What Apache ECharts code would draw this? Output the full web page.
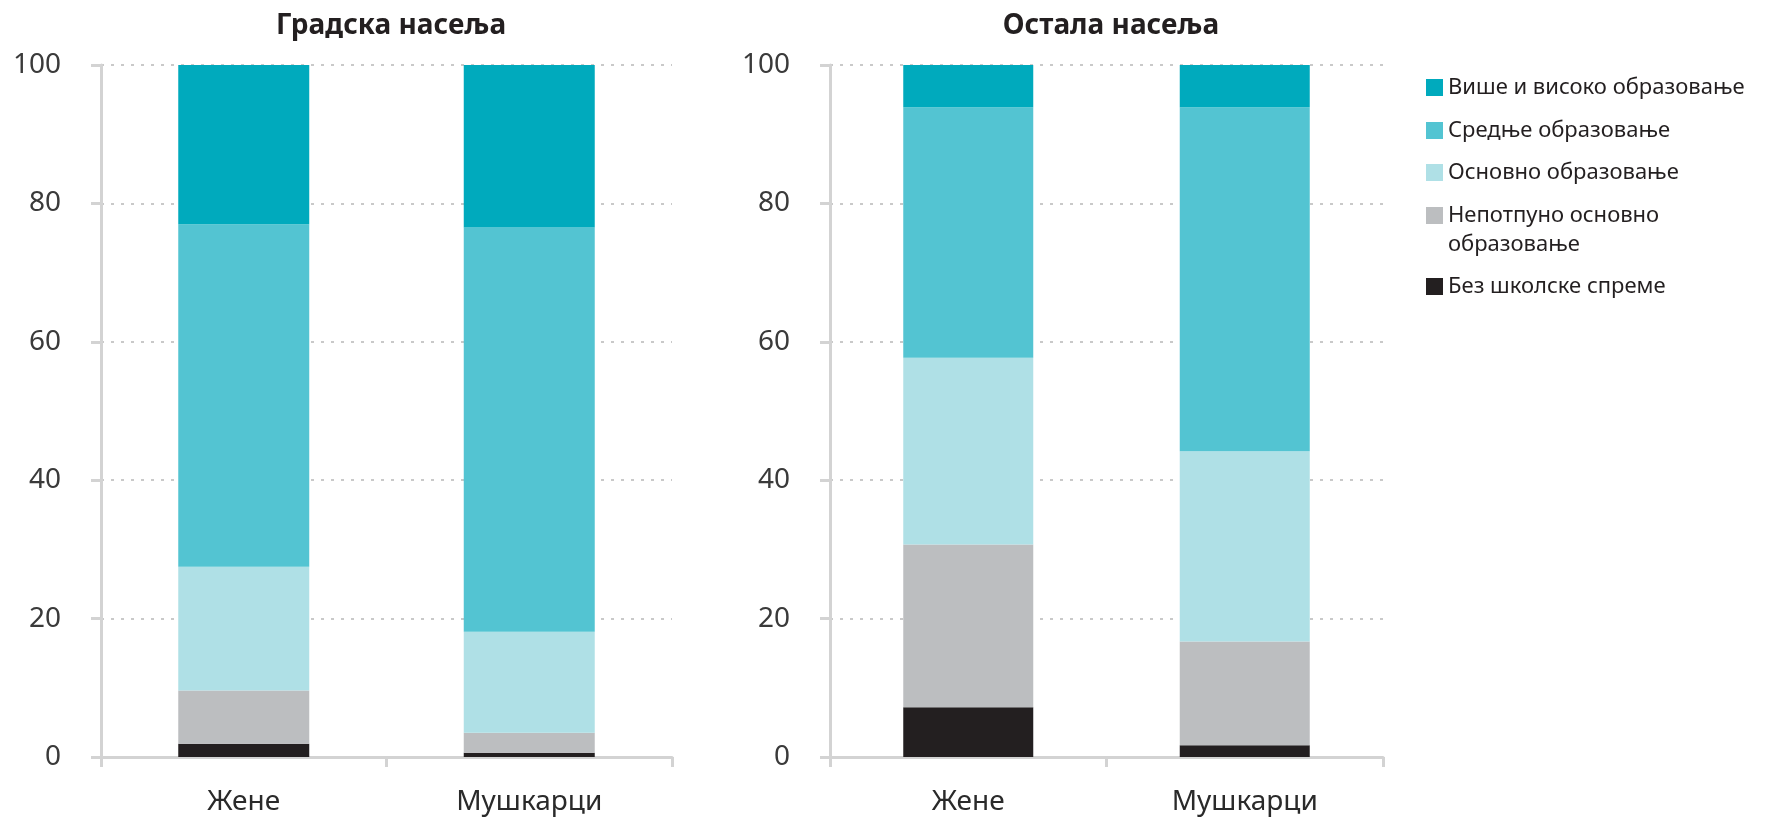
<!DOCTYPE html>
<html>
<head>
<meta charset="utf-8">
<script src="https://cdn.jsdelivr.net/npm/echarts@6/dist/echarts.min.js"></script>
<style>
html,body{margin:0;padding:0;background:#fff;}
#chart{width:1783px;height:819px;}
</style>
</head>
<body>
<div id="chart"></div>
<script>
const panelTitles = ['Градска насеља', 'Остала насеља'];
const categories = ['Жене', 'Мушкарци'];
const seriesNames = ['Без школске спреме', 'Непотпуно основно образовање', 'Основно образовање', 'Средње образовање', 'Више и високо образовање'];
const seriesColors = ['#231f20', '#bcbec0', '#afe0e6', '#53c4d2', '#00aabd'];
// Градска насеља: [Жене, Мушкарци]
const urbanNone = [1.9, 0.6];
const urbanIncomplete = [7.7, 2.9];
const urbanPrimary = [17.9, 14.6];
const urbanSecondary = [49.5, 58.4];
const urbanHigher = [23.0, 23.5];
// Остала насеља: [Жене, Мушкарци]
const otherNone = [7.2, 1.7];
const otherIncomplete = [23.5, 15.0];
const otherPrimary = [27.0, 27.5];
const otherSecondary = [36.2, 49.7];
const otherHigher = [6.1, 6.1];
const yTicks = [0, 20, 40, 60, 80, 100];

const urbanData = [urbanNone, urbanIncomplete, urbanPrimary, urbanSecondary, urbanHigher];
const otherData = [otherNone, otherIncomplete, otherPrimary, otherSecondary, otherHigher];

const FONT = 'Noto Sans';
const axisGray = '#d3d3d3';

function yAxisCfg(idx) {
  return {
    type: 'value', gridIndex: idx, min: yTicks[0], max: yTicks[yTicks.length - 1], interval: 20,
    axisLine: {show: true, lineStyle: {color: axisGray, width: 3}},
    axisTick: {show: true, length: 10, lineStyle: {color: axisGray, width: 3}},
    axisLabel: {color: '#3a3a3a', fontSize: 28, fontFamily: FONT, margin: 40},
    splitLine: {show: true, lineStyle: {color: '#c9c9c9', width: 2, type: [3, 7]}}
  };
}
function xAxisCfg(idx) {
  return {
    type: 'category', gridIndex: idx, data: categories,
    axisLine: {show: true, lineStyle: {color: axisGray, width: 3}},
    axisTick: {show: true, length: 10, lineStyle: {color: axisGray, width: 3}},
    axisLabel: {color: '#2a2a2a', fontSize: 28, fontFamily: FONT, margin: 31}
  };
}

const series = [];
[urbanData, otherData].forEach((set, g) => {
  set.forEach((vals, i) => {
    series.push({
      name: seriesNames[i], type: 'bar', stack: 'p' + g,
      xAxisIndex: g, yAxisIndex: g,
      barWidth: g === 0 ? 131 : 130,
      itemStyle: {color: seriesColors[i]},
      emphasis: {disabled: true},
      data: vals
    });
  });
});

const legendTops = [68, 111, 153, 167, 267];
const legendOrder = [4, 3, 2, 1, 0];
const legends = legendOrder.map((si, k) => {
  const twoLine = si === 1;
  return {
    orient: 'vertical', left: 1421, top: legendTops[k],
    itemWidth: 17, itemHeight: 17, icon: 'rect',
    selectedMode: false,
    data: [seriesNames[si]],
    formatter: twoLine ? '\nНепотпуно основно\nобразовање' : '{name}',
    textStyle: {color: '#231f20', fontSize: 22, fontFamily: FONT, lineHeight: 29}
  };
});

const chart = echarts.init(document.getElementById('chart'), null, {renderer: 'canvas'});
chart.setOption({
  animation: false,
  color: seriesColors,
  title: panelTitles.map((t, i) => ({
    text: t, left: i === 0 ? 386 : 1106, top: 7, textAlign: 'center',
    textStyle: {fontFamily: FONT, fontSize: 28, fontWeight: 'bold', color: '#231f20'}
  })),
  legend: legends,
  grid: [
    {left: 101, top: 65, width: 571, height: 692, containLabel: false},
    {left: 830, top: 65, width: 553, height: 692, containLabel: false}
  ],
  xAxis: [xAxisCfg(0), xAxisCfg(1)],
  yAxis: [yAxisCfg(0), yAxisCfg(1)],
  series: series
});
</script>
</body>
</html>
